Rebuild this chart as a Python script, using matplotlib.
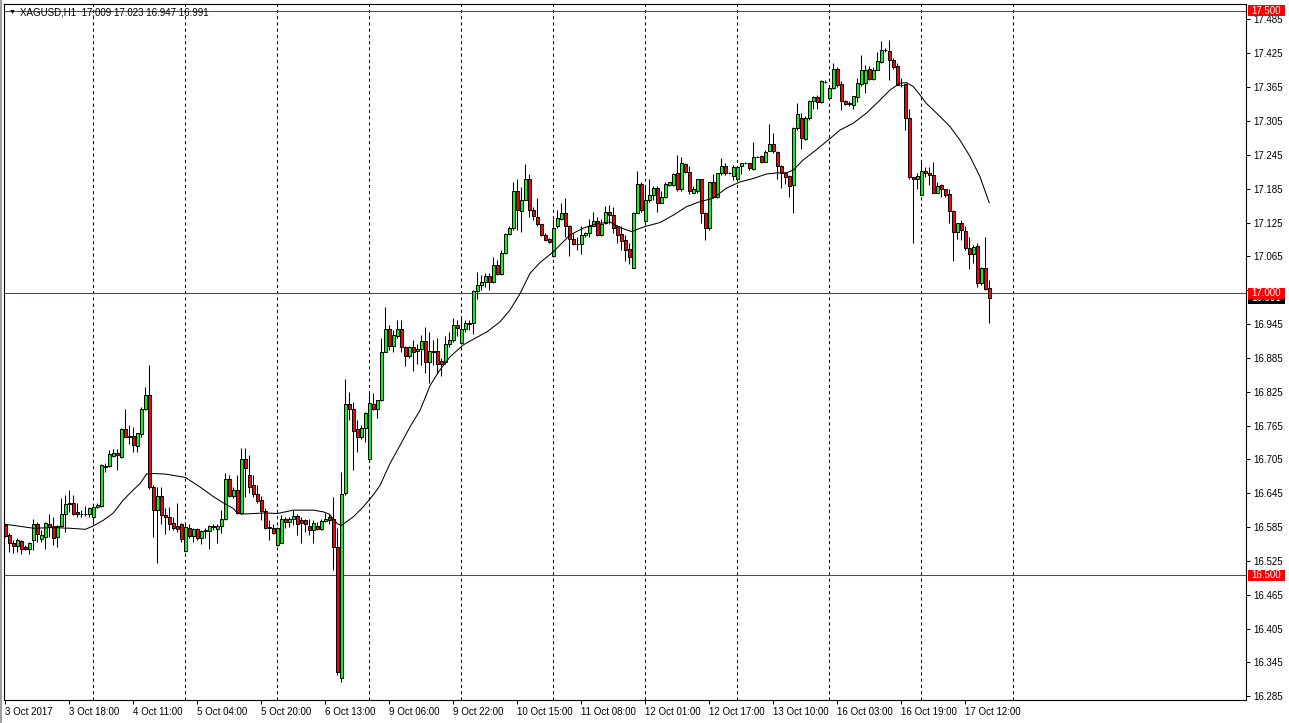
"""
XAGUSD H1 candlestick chart, MetaTrader style,
with a moving average and horizontal level lines.
"""

import numpy as np
import matplotlib
matplotlib.use('Agg')
from matplotlib import pyplot as plt
from matplotlib.patches import Rectangle

# INPUT -----------------------
symbol = 'XAGUSD,H1'

opens = [
    16.588, 16.571, 16.557, 16.552, 16.560, 16.549, 16.547, 16.562, 16.591, 16.564,
    16.567, 16.591, 16.587, 16.567, 16.587, 16.609, 16.628, 16.627, 16.611, 16.609,
    16.608, 16.609, 16.603, 16.621, 16.623, 16.694, 16.693, 16.711, 16.716, 16.710,
    16.758, 16.747, 16.746, 16.729, 16.750, 16.795, 16.820, 16.656, 16.615, 16.640,
    16.607, 16.602, 16.592, 16.587, 16.590, 16.543, 16.583, 16.569, 16.581, 16.565,
    16.578, 16.578, 16.587, 16.581, 16.587, 16.600, 16.670, 16.640, 16.651, 16.610,
    16.705, 16.678, 16.659, 16.643, 16.633, 16.614, 16.586, 16.584, 16.553, 16.557,
    16.600, 16.594, 16.600, 16.604, 16.597, 16.597, 16.587, 16.580, 16.587, 16.581,
    16.596, 16.603, 16.600, 16.549, 16.318, 16.645, 16.803, 16.794, 16.759, 16.744,
    16.760, 16.706, 16.804, 16.795, 16.810, 16.896, 16.936, 16.906, 16.923, 16.936,
    16.905, 16.889, 16.905, 16.897, 16.901, 16.915, 16.878, 16.898, 16.897, 16.879,
    16.878, 16.909, 16.917, 16.943, 16.912, 16.937, 16.945, 16.946, 17.003, 17.014,
    17.019, 17.030, 17.020, 17.049, 17.033, 17.071, 17.104, 17.115, 17.180, 17.146,
    17.165, 17.203, 17.148, 17.134, 17.122, 17.103, 17.095, 17.066, 17.118, 17.132,
    17.142, 17.119, 17.095, 17.087, 17.086, 17.102, 17.106, 17.119, 17.128, 17.103,
    17.125, 17.144, 17.138, 17.118, 17.104, 17.094, 17.078, 17.045, 17.141, 17.194,
    17.128, 17.165, 17.174, 17.186, 17.160, 17.171, 17.191, 17.191, 17.212, 17.184,
    17.228, 17.215, 17.178, 17.180, 17.202, 17.142, 17.115, 17.196, 17.170, 17.212,
    17.226, 17.212, 17.208, 17.202, 17.225, 17.230, 17.230, 17.219, 17.242, 17.243,
    17.233, 17.251, 17.265, 17.250, 17.226, 17.213, 17.207, 17.191, 17.292, 17.311,
    17.273, 17.310, 17.340, 17.348, 17.339, 17.374, 17.346, 17.363, 17.398, 17.371,
    17.341, 17.337, 17.333, 17.348, 17.371, 17.372, 17.397, 17.379, 17.395, 17.410,
    17.430, 17.429, 17.413, 17.402, 17.369, 17.370, 17.311, 17.206, 17.202, 17.174,
    17.216, 17.212, 17.209, 17.178, 17.191, 17.184, 17.176, 17.146, 17.108, 17.125,
    17.110, 17.079, 17.070, 17.083, 17.017, 17.045, 17.009]

highs = [
    16.591, 16.574, 16.562, 16.565, 16.562, 16.553, 16.559, 16.600, 16.594, 16.580,
    16.594, 16.609, 16.603, 16.588, 16.636, 16.642, 16.651, 16.642, 16.627, 16.615,
    16.622, 16.621, 16.623, 16.627, 16.697, 16.698, 16.721, 16.724, 16.724, 16.760,
    16.795, 16.766, 16.763, 16.752, 16.798, 16.833, 16.872, 16.659, 16.656, 16.656,
    16.618, 16.621, 16.603, 16.627, 16.593, 16.591, 16.591, 16.583, 16.583, 16.580,
    16.583, 16.588, 16.591, 16.591, 16.615, 16.680, 16.677, 16.656, 16.677, 16.726,
    16.726, 16.713, 16.677, 16.659, 16.640, 16.618, 16.597, 16.591, 16.586, 16.606,
    16.603, 16.603, 16.615, 16.608, 16.603, 16.600, 16.600, 16.597, 16.594, 16.600,
    16.610, 16.608, 16.639, 16.583, 16.683, 16.847, 16.825, 16.807, 16.775, 16.766,
    16.789, 16.823, 16.822, 16.811, 16.920, 16.976, 16.943, 16.934, 16.953, 16.953,
    16.906, 16.906, 16.917, 16.910, 16.925, 16.939, 16.931, 16.917, 16.920, 16.884,
    16.923, 16.931, 16.955, 16.952, 16.955, 16.952, 16.952, 17.005, 17.038, 17.032,
    17.036, 17.036, 17.063, 17.058, 17.076, 17.106, 17.118, 17.197, 17.203, 17.188,
    17.229, 17.211, 17.152, 17.168, 17.123, 17.106, 17.097, 17.132, 17.148, 17.160,
    17.168, 17.121, 17.106, 17.100, 17.118, 17.109, 17.131, 17.144, 17.135, 17.132,
    17.154, 17.156, 17.153, 17.121, 17.118, 17.103, 17.088, 17.144, 17.217, 17.197,
    17.188, 17.203, 17.189, 17.189, 17.180, 17.197, 17.197, 17.212, 17.245, 17.242,
    17.230, 17.225, 17.189, 17.203, 17.203, 17.144, 17.197, 17.211, 17.213, 17.239,
    17.231, 17.215, 17.227, 17.225, 17.231, 17.233, 17.231, 17.267, 17.243, 17.245,
    17.254, 17.300, 17.284, 17.251, 17.227, 17.215, 17.209, 17.295, 17.336, 17.320,
    17.314, 17.342, 17.349, 17.351, 17.378, 17.378, 17.366, 17.407, 17.401, 17.375,
    17.342, 17.341, 17.349, 17.381, 17.422, 17.404, 17.402, 17.400, 17.428, 17.446,
    17.434, 17.449, 17.416, 17.407, 17.382, 17.371, 17.326, 17.206, 17.213, 17.236,
    17.224, 17.223, 17.232, 17.197, 17.193, 17.185, 17.185, 17.147, 17.125, 17.129,
    17.118, 17.100, 17.085, 17.088, 17.046, 17.100, 17.023]

lows = [
    16.568, 16.541, 16.539, 16.541, 16.538, 16.545, 16.537, 16.544, 16.559, 16.559,
    16.547, 16.568, 16.553, 16.550, 16.586, 16.577, 16.612, 16.606, 16.603, 16.603,
    16.604, 16.603, 16.591, 16.618, 16.621, 16.683, 16.692, 16.710, 16.686, 16.708,
    16.744, 16.733, 16.718, 16.718, 16.745, 16.792, 16.653, 16.568, 16.522, 16.591,
    16.572, 16.580, 16.580, 16.577, 16.559, 16.541, 16.565, 16.559, 16.562, 16.555,
    16.565, 16.547, 16.580, 16.556, 16.574, 16.597, 16.639, 16.636, 16.609, 16.608,
    16.639, 16.645, 16.639, 16.627, 16.597, 16.581, 16.562, 16.572, 16.551, 16.556,
    16.583, 16.586, 16.588, 16.571, 16.556, 16.577, 16.571, 16.556, 16.580, 16.580,
    16.594, 16.591, 16.509, 16.323, 16.311, 16.642, 16.775, 16.687, 16.718, 16.742,
    16.736, 16.704, 16.792, 16.778, 16.809, 16.896, 16.899, 16.896, 16.920, 16.896,
    16.870, 16.884, 16.862, 16.875, 16.872, 16.858, 16.841, 16.872, 16.856, 16.853,
    16.875, 16.905, 16.914, 16.923, 16.909, 16.931, 16.935, 16.928, 16.990, 17.005,
    17.011, 17.005, 17.018, 17.032, 17.032, 17.069, 17.103, 17.112, 17.112, 17.109,
    17.165, 17.135, 17.129, 17.119, 17.101, 17.093, 17.088, 17.064, 17.116, 17.129,
    17.100, 17.066, 17.085, 17.076, 17.069, 17.100, 17.100, 17.118, 17.101, 17.101,
    17.123, 17.122, 17.106, 17.088, 17.076, 17.057, 17.051, 17.044, 17.141, 17.144,
    17.125, 17.162, 17.165, 17.144, 17.159, 17.168, 17.189, 17.189, 17.181, 17.181,
    17.212, 17.176, 17.177, 17.177, 17.124, 17.094, 17.112, 17.170, 17.168, 17.209,
    17.209, 17.211, 17.200, 17.200, 17.211, 17.229, 17.218, 17.218, 17.241, 17.231,
    17.233, 17.251, 17.249, 17.203, 17.187, 17.194, 17.171, 17.142, 17.289, 17.255,
    17.271, 17.306, 17.326, 17.326, 17.336, 17.372, 17.345, 17.361, 17.366, 17.324,
    17.333, 17.332, 17.327, 17.339, 17.367, 17.354, 17.378, 17.378, 17.395, 17.408,
    17.428, 17.378, 17.398, 17.369, 17.366, 17.289, 17.203, 17.088, 17.184, 17.174,
    17.206, 17.191, 17.177, 17.177, 17.171, 17.171, 17.125, 17.057, 17.095, 17.094,
    17.077, 17.042, 17.053, 17.010, 17.014, 17.005, 16.947]

closes = [
    16.569, 16.556, 16.552, 16.562, 16.547, 16.547, 16.556, 16.590, 16.572, 16.571,
    16.593, 16.586, 16.565, 16.587, 16.609, 16.626, 16.626, 16.609, 16.608, 16.608,
    16.609, 16.618, 16.621, 16.624, 16.695, 16.692, 16.714, 16.716, 16.713, 16.758,
    16.745, 16.745, 16.731, 16.751, 16.795, 16.820, 16.656, 16.615, 16.640, 16.606,
    16.603, 16.591, 16.584, 16.581, 16.564, 16.586, 16.569, 16.581, 16.565, 16.578,
    16.580, 16.587, 16.586, 16.587, 16.600, 16.670, 16.640, 16.651, 16.610, 16.705,
    16.689, 16.656, 16.643, 16.632, 16.614, 16.584, 16.583, 16.575, 16.583, 16.600,
    16.594, 16.600, 16.604, 16.591, 16.593, 16.591, 16.580, 16.593, 16.581, 16.595,
    16.600, 16.597, 16.549, 16.328, 16.643, 16.804, 16.794, 16.756, 16.745, 16.760,
    16.788, 16.805, 16.795, 16.810, 16.896, 16.936, 16.906, 16.925, 16.936, 16.905,
    16.889, 16.905, 16.895, 16.901, 16.915, 16.878, 16.897, 16.896, 16.875, 16.874,
    16.909, 16.917, 16.943, 16.938, 16.936, 16.947, 16.946, 17.003, 17.015, 17.019,
    17.030, 17.020, 17.049, 17.033, 17.071, 17.104, 17.116, 17.180, 17.147, 17.165,
    17.203, 17.148, 17.136, 17.122, 17.103, 17.094, 17.090, 17.116, 17.133, 17.142,
    17.119, 17.095, 17.086, 17.086, 17.103, 17.106, 17.118, 17.128, 17.103, 17.123,
    17.144, 17.138, 17.115, 17.103, 17.093, 17.077, 17.063, 17.141, 17.194, 17.147,
    17.165, 17.174, 17.186, 17.160, 17.171, 17.194, 17.196, 17.211, 17.184, 17.230,
    17.215, 17.180, 17.184, 17.202, 17.141, 17.115, 17.196, 17.170, 17.212, 17.226,
    17.212, 17.212, 17.224, 17.224, 17.230, 17.230, 17.221, 17.242, 17.242, 17.233,
    17.250, 17.265, 17.251, 17.226, 17.212, 17.206, 17.190, 17.292, 17.317, 17.274,
    17.311, 17.340, 17.348, 17.339, 17.376, 17.374, 17.363, 17.398, 17.369, 17.340,
    17.335, 17.335, 17.349, 17.372, 17.395, 17.395, 17.379, 17.395, 17.411, 17.430,
    17.430, 17.413, 17.401, 17.369, 17.369, 17.311, 17.206, 17.202, 17.207, 17.216,
    17.212, 17.210, 17.178, 17.190, 17.184, 17.173, 17.146, 17.109, 17.125, 17.112,
    17.079, 17.070, 17.082, 17.017, 17.045, 17.007, 16.991]

# moving average (bar index, price)
ma_bar = [0, 7, 12, 16, 20, 22, 24.5, 27, 29.5, 32, 33.7, 35.3, 37, 40, 45, 48.7,
          52, 54.5, 57, 58, 59, 62, 65, 68, 72, 77, 79.5, 81, 83, 84, 87, 89.5,
          92, 93.7, 96.2, 98.7, 101.2, 103.7, 106.2, 108.5, 111.2, 114.5, 117,
          120.4, 123.7, 126.2, 128.7, 131.2, 133.7, 137, 139.5, 141.2, 144.5,
          147.8, 151.2, 153.7, 156.5, 160, 163.7, 167, 170.3, 173.7, 177, 180.3,
          183.7, 187, 190.3, 193, 195.3, 197, 199.5, 202.8, 206.2, 208.7, 212,
          215.3, 218.7, 221.2, 223.7, 225.3, 227, 228.7, 230.3, 233.7, 236.2,
          238.7, 241.2, 243.7, 246]
ma_price = [16.590, 16.583, 16.584, 16.583, 16.581, 16.587, 16.597, 16.610, 16.633,
            16.651, 16.662, 16.679, 16.680, 16.679, 16.673, 16.656, 16.639, 16.628,
            16.618, 16.610, 16.608, 16.609, 16.610, 16.609, 16.615, 16.615, 16.612,
            16.608, 16.591, 16.588, 16.603, 16.621, 16.642, 16.659, 16.698, 16.730,
            16.763, 16.792, 16.836, 16.862, 16.887, 16.908, 16.918, 16.931, 16.949,
            16.970, 16.999, 17.035, 17.054, 17.073, 17.091, 17.103, 17.115, 17.123,
            17.126, 17.116, 17.109, 17.118, 17.125, 17.138, 17.153, 17.162, 17.168,
            17.186, 17.197, 17.203, 17.211, 17.213, 17.213, 17.218, 17.236, 17.254,
            17.274, 17.289, 17.301, 17.319, 17.342, 17.360, 17.372, 17.373, 17.366,
            17.351, 17.336, 17.313, 17.295, 17.271, 17.242, 17.206, 17.160]

date_labels = ['3 Oct 2017', '3 Oct 18:00', '4 Oct 11:00', '5 Oct 04:00', '5 Oct 20:00',
               '6 Oct 13:00', '9 Oct 06:00', '9 Oct 22:00', '10 Oct 15:00', '11 Oct 08:00',
               '12 Oct 01:00', '12 Oct 17:00', '13 Oct 10:00', '16 Oct 03:00',
               '16 Oct 19:00', '17 Oct 12:00']
label_step  = 16
grid_bars   = [22, 45, 68, 91, 114, 137, 160, 183, 206, 229, 252]
levels      = [17.500, 17.000, 16.500]
price_ticks = [17.485, 17.425, 17.365, 17.305, 17.245, 17.185, 17.125, 17.065, 17.005,
               16.945, 16.885, 16.825, 16.765, 16.705, 16.645, 16.585, 16.525, 16.465,
               16.405, 16.345, 16.285]
# -----------------------------

plt.rcParams['font.family'] = ['Liberation Sans', 'DejaVu Sans']
fontsize = 7
W, H = 1289, 723

o = np.array(opens); h = np.array(highs); l = np.array(lows); c = np.array(closes)
x = np.arange(len(o))
up = c >= o

fig = plt.figure(figsize=(W/100, H/100), dpi=100)
ax = fig.add_axes([4/W, 23/H, 1242/W, 696/H])

# grid + levels
for b in grid_bars:
    ax.axvline(b, color='black', lw=0.75, ls=(0, (3, 3)), zorder=1)
for v in levels:
    ax.axhline(v, color='red', lw=0.75, zorder=1.5)

# candles
ax.vlines(x, l, h, color='black', lw=0.75, zorder=3)
ax.bar(x[up], (c - o)[up], bottom=o[up], width=0.75, color='#00ff00',
       edgecolor='black', lw=0.7, zorder=4)
ax.bar(x[~up], (o - c)[~up], bottom=c[~up], width=0.75, color='red',
       edgecolor='black', lw=0.7, zorder=4)

# moving average
ax.plot(ma_bar, ma_price, color='black', lw=0.75, zorder=5)

ylo, yhi = 16.2784, 17.5124
ax.set_xlim(-0.33, 310.2)
ax.set_ylim(ylo, yhi)

ax.set_xticks(x[::label_step][:len(date_labels)])
ax.set_xticklabels(date_labels, ha='left', fontsize=fontsize)
ax.yaxis.tick_right()
ax.set_yticks(price_ticks)
# the 17.005 label sits under the 17.000 level tag
ax.set_yticklabels(['' if abs(p - 17.005) < 1e-6 else f'{p:.3f}' for p in price_ticks],
                   fontsize=fontsize)
ax.tick_params(axis='y', direction='out', length=3, width=0.75, pad=2)
ax.tick_params(axis='x', direction='out', length=3, width=0.75, pad=2)
for s in ax.spines.values():
    s.set_linewidth(0.8)

# price tags on the right axis
tr = ax.get_yaxis_transform()
tag_x0, tag_w = 1.0016, 0.0298
tag_h = 11 / 696 * (yhi - ylo)

def price_tag(v, fc, z):
    ax.add_patch(Rectangle((tag_x0, v - tag_h/2), tag_w, tag_h, transform=tr,
                           fc=fc, ec='none', clip_on=False, zorder=z))
    ax.text(tag_x0 + tag_w/2, v, f'{v:.3f}', transform=tr, ha='center', va='center',
            fontsize=fontsize, color='white', zorder=z + 0.1, clip_on=False)

price_tag(c[-1], 'black', 6)
for v in levels:
    price_tag(v, 'red', 7)

# header
fig.text(9/W, 1 - 12.5/H, '\u25bc', fontsize=5, va='center')
fig.text(20/W, 1 - 12.5/H,
         f'{symbol}  {o[-1]:.3f} {h[-1]:.3f} {l[-1]:.3f} {c[-1]:.3f}',
         fontsize=fontsize, va='center')

# window border
fig.patches.append(Rectangle((0, 0), 2/W, 1, transform=fig.transFigure,
                             fc='#a0a0a0', ec='none'))

fig.savefig('out.png', dpi=100)
